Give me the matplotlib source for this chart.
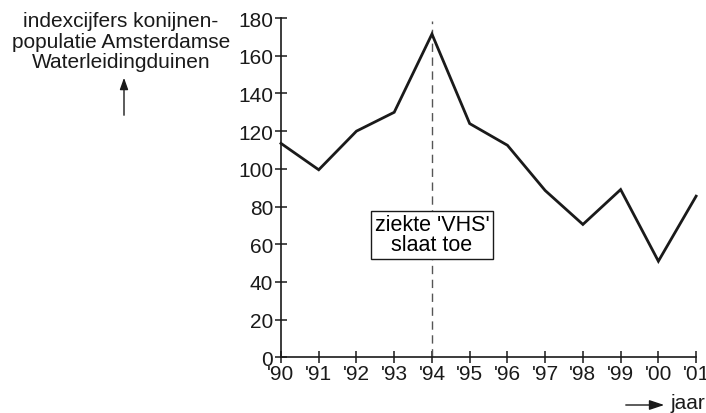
import matplotlib
matplotlib.use('Agg')
import matplotlib.pyplot as plt

plt.rcParams['font.family'] = ['Liberation Sans', 'DejaVu Sans']

jaren = [1990, 1991, 1992, 1993, 1994, 1995, 1996, 1997, 1998, 1999, 2000, 2001]
labels = ["'90", "'91", "'92", "'93", "'94", "'95", "'96", "'97", "'98", "'99", "'00", "'01"]
index = [113.5, 99.5, 120, 130, 171.5, 124, 112.5, 88.5, 70.5, 89, 51, 85.5]
yticks = [0, 20, 40, 60, 80, 100, 120, 140, 160, 180]

fig = plt.figure(figsize=(7.06, 4.14), dpi=100)
ax = fig.add_axes([0.398, 0.1345, 0.588, 0.8195])

ax.plot(jaren, index, color='#1a1a1a', lw=2.0, solid_joinstyle='miter', clip_on=False, zorder=3)
ax.plot([1994, 1994], [0, 178.5], color='#555555', lw=1.0, dashes=(6, 4), zorder=2)

ax.text(1994, 65, "ziekte 'VHS'\nslaat toe", ha='center', va='center', fontsize=15.5,
        linespacing=0.95,
        bbox=dict(boxstyle='square,pad=0.15', fc='white', ec='#1a1a1a', lw=1.0), zorder=4)

ax.set_xlim(1990, 2001)
ax.set_ylim(0, 180)
ax.set_xticks(jaren)
ax.set_xticklabels(labels)
ax.set_yticks(yticks)
for s in ['top', 'right']:
    ax.spines[s].set_visible(False)
for s in ['left', 'bottom']:
    ax.spines[s].set_linewidth(1.2)
    ax.spines[s].set_color('#1a1a1a')
ax.tick_params(direction='inout', length=9, width=1.1, colors='#1a1a1a', labelsize=15)
ax.tick_params(axis='x', pad=0)
ax.tick_params(axis='y', pad=1)

fig.text(121 / 706, 1 - 42 / 414, "indexcijfers konijnen-\npopulatie Amsterdamse\nWaterleidingduinen",
         ha='center', va='center', multialignment='center', fontsize=15, linespacing=1.08,
         color='#1a1a1a')
fig.patches.append(matplotlib.patches.FancyArrowPatch(
    (124 / 706, 1 - 119 / 414), (124 / 706, 1 - 76 / 414), transform=fig.transFigure,
    arrowstyle='-|>,head_length=7,head_width=2.5', lw=1.0, color='#1a1a1a', mutation_scale=1))

fig.patches.append(matplotlib.patches.FancyArrowPatch(
    (623 / 706, 1 - 406 / 414), (667 / 706, 1 - 406 / 414), transform=fig.transFigure,
    arrowstyle='-|>,head_length=9,head_width=3', lw=1.0, color='#1a1a1a', mutation_scale=1))
fig.text(671 / 706, 1 - 404 / 414, "jaar", ha='left', va='center', fontsize=15, color='#1a1a1a')

fig.savefig('out.png', dpi=100)
